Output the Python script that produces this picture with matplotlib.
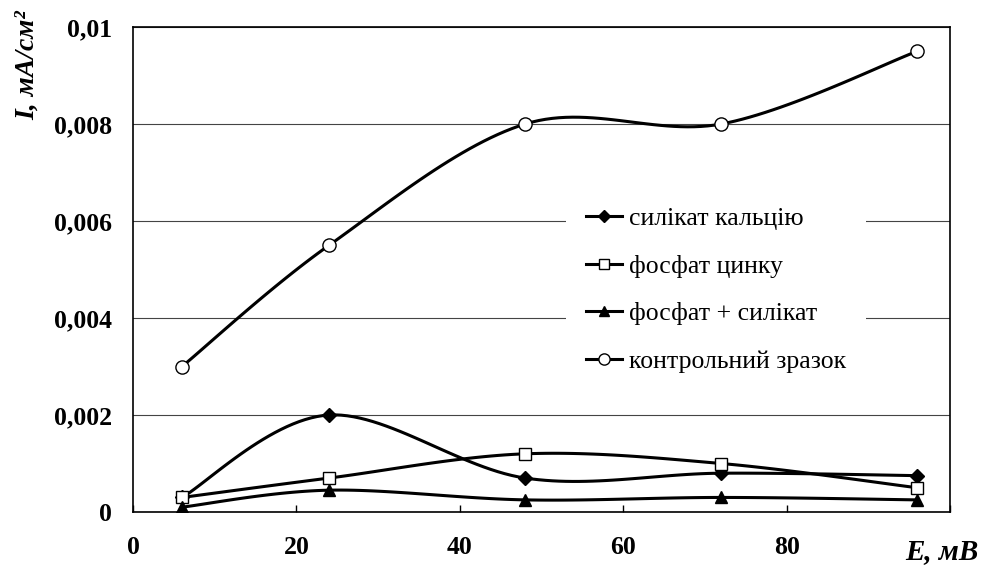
import matplotlib
matplotlib.use("Agg")
import matplotlib.pyplot as plt
import numpy as np

# potential, mV
E = [6, 24, 48, 72, 96]
# current density, mA/cm2
silicate_ca = [0.0003, 0.002, 0.0007, 0.0008, 0.00075]
phosphate_zn = [0.0003, 0.0007, 0.0012, 0.001, 0.0005]
phos_sil = [0.0001, 0.00045, 0.00025, 0.0003, 0.00025]
control = [0.003, 0.0055, 0.008, 0.008, 0.0095]

labels = ["силікат кальцію", "фосфат цинку", "фосфат + силікат", "контрольний зразок"]
yticks = [0, 0.002, 0.004, 0.006, 0.008, 0.01]
ytick_labels = ["0", "0,002", "0,004", "0,006", "0,008", "0,01"]
xticks = [0, 20, 40, 60, 80, 100]
xtick_labels = ["0", "20", "40", "60", "80", ""]

plt.rcParams['font.family'] = ['Liberation Serif', 'DejaVu Serif']


def smooth(x, y, n=30):
    # excel-like smoothed line (catmull-rom through bezier)
    p = np.column_stack([x, y]).astype(float)
    p = np.vstack([p[0], p, p[-1]])
    out = []
    t = np.linspace(0, 1, n)[:, None]
    for i in range(1, len(p) - 2):
        b0 = p[i]
        b1 = p[i] + (p[i + 1] - p[i - 1]) / 6
        b2 = p[i + 1] - (p[i + 2] - p[i]) / 6
        b3 = p[i + 1]
        seg = ((1 - t) ** 3) * b0 + 3 * ((1 - t) ** 2) * t * b1 + 3 * (1 - t) * t ** 2 * b2 + t ** 3 * b3
        out.append(seg)
    s = np.vstack(out)
    return s[:, 0], s[:, 1]


fig = plt.figure(figsize=(9.82, 5.65), dpi=100)
ax = fig.add_axes([133 / 982, 53 / 565, 817 / 982, 485 / 565])

series = [
    (silicate_ca, dict(marker='D', markersize=7, markerfacecolor='black')),
    (phosphate_zn, dict(marker='s', markersize=8.5, markerfacecolor='white')),
    (phos_sil, dict(marker='^', markersize=9, markerfacecolor='black')),
    (control, dict(marker='o', markersize=9.5, markerfacecolor='white')),
]

handles = []
for (vals, st), lab in zip(series, labels):
    sx, sy = smooth(E, vals)
    ax.plot(sx, sy, color='black', lw=2.2, zorder=3)
    ax.plot(E, vals, linestyle='none', color='black', markeredgecolor='black',
            markeredgewidth=1, zorder=4, **st)
    h, = ax.plot([], [], color='black', lw=2.2, markeredgecolor='black',
                 markeredgewidth=1, **{**st, 'markersize': st['markersize'] * 0.85})
    handles.append(h)

ax.set_xlim(0, 100)
ax.set_ylim(0, 0.01)
ax.set_yticks(yticks)
ax.set_yticklabels(ytick_labels)
ax.set_xticks(xticks)
ax.set_xticklabels(xtick_labels)
for lab in ax.get_xticklabels() + ax.get_yticklabels():
    lab.set_fontweight('bold')
    lab.set_fontsize(18.5)

ax.tick_params(axis='y', length=0, pad=15)
ax.tick_params(axis='x', direction='in', length=5, width=1, pad=17)
ax.yaxis.grid(True, color='#444444', lw=0.8)
ax.set_axisbelow(True)
for sp in ax.spines.values():
    sp.set_linewidth(1.2)

fig.text(27 / 982, 1 - 10 / 565, "I, мА/см²", rotation=90, ha='center', va='top',
         fontsize=20, fontweight='bold', fontstyle='italic')
fig.text(978 / 982, 1 - 559 / 565, "E, мВ", ha='right', va='baseline',
         fontsize=21, fontweight='bold', fontstyle='italic')

leg = fig.legend(handles, labels, loc='center', bbox_to_anchor=(716 / 982, 1 - 290 / 565),
                 frameon=True, fontsize=18.5, handlelength=1.4, handletextpad=0.25,
                 labelspacing=0.97, borderpad=0.8)
leg.get_frame().set_edgecolor('none')
leg.get_frame().set_facecolor('white')
leg.get_frame().set_alpha(1)
leg.set_zorder(2)

fig.savefig("out.png", dpi=100)
